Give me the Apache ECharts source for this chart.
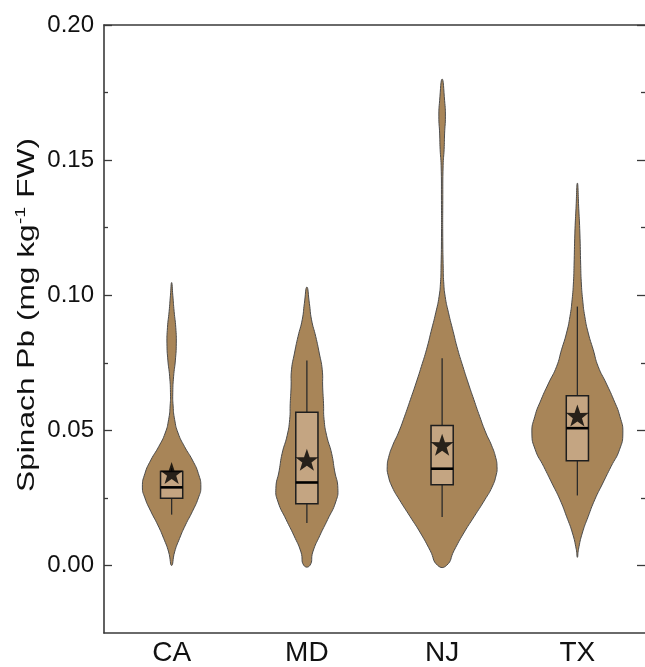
<!DOCTYPE html>
<html>
<head>
<meta charset="utf-8">
<script src="https://cdn.jsdelivr.net/npm/echarts@6/dist/echarts.min.js"></script>
<style>
  html, body { margin: 0; padding: 0; background: #fff; }
  #chart { width: 645px; height: 667px; }
</style>
</head>
<body>
<div id="chart"></div>
<script>
const categories = ['CA', 'MD', 'NJ', 'TX'];

// violin outlines: [Pb value, relative density]
const densityCA = [[0, 0], [0.005, 0.054], [0.01, 0.143], [0.015, 0.25], [0.02, 0.375], [0.025, 0.482],
  [0.029, 0.527], [0.034, 0.482], [0.039, 0.375], [0.044, 0.232], [0.049, 0.116], [0.054, 0.054],
  [0.059, 0.027], [0.064, 0.021], [0.07, 0.036], [0.076, 0.068], [0.082, 0.084], [0.088, 0.075],
  [0.094, 0.045], [0.1, 0.021], [0.1047, 0]];
const densityMD = [[0, 0.054], [0.005, 0.107], [0.011, 0.232], [0.017, 0.375], [0.0235, 0.52], [0.0285, 0.559],
  [0.035, 0.5], [0.0415, 0.446], [0.048, 0.357], [0.054, 0.31], [0.06, 0.3], [0.066, 0.285],
  [0.0724, 0.277], [0.0786, 0.223], [0.0847, 0.16], [0.0909, 0.084], [0.097, 0.045], [0.103, 0]];
const densityNJ = [[0, 0.08], [0.0055, 0.215], [0.012, 0.39], [0.018, 0.575], [0.0243, 0.77], [0.029, 0.9],
  [0.0335, 0.975], [0.0365, 0.99], [0.04, 0.965], [0.0445, 0.89], [0.049, 0.79], [0.055, 0.68],
  [0.0615, 0.57], [0.0675, 0.47], [0.0736, 0.375], [0.08, 0.28], [0.0865, 0.2],
  [0.0935, 0.115], [0.0995, 0.055], [0.105, 0.028], [0.11, 0.02], [0.12, 0.012], [0.135, 0.012],
  [0.148, 0.018], [0.154, 0.036], [0.16, 0.045], [0.166, 0.059], [0.172, 0.045], [0.18, 0]];
const densityTX = [[0.003, 0], [0.006, 0.02], [0.012, 0.089], [0.018, 0.193], [0.0243, 0.313], [0.0305, 0.46],
  [0.0366, 0.607], [0.0428, 0.759], [0.049, 0.82], [0.0551, 0.768], [0.0613, 0.655], [0.0675, 0.518],
  [0.0736, 0.375], [0.0798, 0.286], [0.086, 0.196], [0.0921, 0.134], [0.0983, 0.095], [0.105, 0.07],
  [0.111, 0.06], [0.123, 0.045], [0.132, 0.025], [0.1415, 0]];

// box plot statistics per state
const lowerWhisker = [0.0188, 0.0157, 0.0179, 0.0259];
const q1 = [0.0249, 0.0228, 0.0299, 0.0387];
const median = [0.0289, 0.0307, 0.0358, 0.0508];
const q3 = [0.0348, 0.0567, 0.0518, 0.0628];
const upperWhisker = [0.036, 0.0758, 0.0767, 0.0958];
const means = [0.0342, 0.0391, 0.0447, 0.0555];

const majorTicks = [0, 0.05, 0.1, 0.15, 0.2];
const minorTicks = [0.025, 0.075, 0.125, 0.175];

const densities = [densityCA, densityMD, densityNJ, densityTX];

const FONT = 'Liberation Sans, Arial, sans-serif';
const AXIS_COLOR = '#3a3a3a';
const STAR = 'path://M50,0 L61.8,35.1 L97.6,34.5 L69,56.7 L79.4,90.5 L50,70 L20.6,90.5 L31,56.7 L2.4,34.5 L38.2,35.1 Z';

function dedupe(pts) {
  const out = [];
  pts.forEach(p => {
    const last = out[out.length - 1];
    if (!last || Math.abs(last[0] - p[0]) > 0.01 || Math.abs(last[1] - p[1]) > 0.01) out.push(p);
  });
  if (out.length > 1) {
    const a = out[0], b = out[out.length - 1];
    if (Math.abs(a[0] - b[0]) < 0.01 && Math.abs(a[1] - b[1]) < 0.01) out.pop();
  }
  return out;
}

function renderViolin(params, api) {
  const idx = api.value(0);
  const band = api.size([1, 0])[0];
  const k = band * 0.41;
  const left = [], right = [];
  densities[idx].forEach(([v, d]) => {
    const p = api.coord([idx, v]);
    left.push([p[0] - d * k, p[1]]);
    right.push([p[0] + d * k, p[1]]);
  });
  return {
    type: 'polygon',
    shape: {points: dedupe(left.concat(right.reverse())), smooth: 0.55},
    style: {fill: '#A88558', stroke: '#4b4b4b', lineWidth: 1}
  };
}

function renderBox(params, api) {
  const idx = api.value(0);
  const half = api.size([1, 0])[0] * 0.082;
  const lo = api.coord([idx, api.value(1)]);
  const b1 = api.coord([idx, api.value(2)]);
  const md = api.coord([idx, api.value(3)]);
  const b3 = api.coord([idx, api.value(4)]);
  const hi = api.coord([idx, api.value(5)]);
  const x = lo[0];
  return {
    type: 'group',
    children: [
      {type: 'line', shape: {x1: x, y1: lo[1], x2: x, y2: b1[1]}, style: {stroke: '#2b2b2b', lineWidth: 1.3}},
      {type: 'line', shape: {x1: x, y1: b3[1], x2: x, y2: hi[1]}, style: {stroke: '#2b2b2b', lineWidth: 1.3}},
      {type: 'rect', shape: {x: x - half, y: b3[1], width: half * 2, height: b1[1] - b3[1]},
        style: {fill: '#C4A582', stroke: '#1e1e1e', lineWidth: 1.5}},
      {type: 'line', shape: {x1: x - half, y1: md[1], x2: x + half, y2: md[1]}, style: {stroke: '#000', lineWidth: 2.6}}
    ]
  };
}

const chart = echarts.init(document.getElementById('chart'));

function yAxisDef(position, ticks, len, withLabels, withLine) {
  return {
    type: 'value',
    position: position,
    min: -0.025,
    max: 0.2,
    axisLine: {show: withLine, lineStyle: {color: AXIS_COLOR, width: 1.6}},
    axisTick: {show: true, inside: true, length: len, customValues: ticks, lineStyle: {color: AXIS_COLOR, width: 1.3}},
    axisLabel: withLabels ? {
      show: true, customValues: majorTicks, margin: 10, fontSize: 24, color: '#111', fontFamily: FONT,
      formatter: v => v.toFixed(2)
    } : {show: false},
    splitLine: {show: false}
  };
}

chart.setOption({
  animation: false,
  backgroundColor: '#fff',
  grid: {left: 104, top: 25, width: 543, height: 608, containLabel: false},
  xAxis: [
    {
      type: 'category',
      data: categories,
      position: 'bottom',
      axisLine: {onZero: false, lineStyle: {color: AXIS_COLOR, width: 1.6}},
      axisTick: {show: false},
      axisLabel: {fontSize: 28, color: '#111', fontFamily: FONT, margin: 6},
      splitLine: {show: false}
    },
    {
      type: 'category',
      data: categories,
      position: 'top',
      axisLine: {onZero: false, lineStyle: {color: AXIS_COLOR, width: 1.6}},
      axisTick: {show: false},
      axisLabel: {show: false}
    }
  ],
  yAxis: [
    yAxisDef('left', majorTicks, 8, true, true),
    yAxisDef('left', minorTicks, 4, false, false),
    yAxisDef('right', majorTicks, 8, false, false),
    yAxisDef('right', minorTicks, 4, false, false)
  ],
  graphic: [{
    type: 'text',
    x: 27,
    y: 315,
    rotation: Math.PI / 2,
    scaleX: 1.32,
    style: {
      text: '{a|Spinach Pb (mg kg}{s|-1}{a| FW)}',
      align: 'center',
      verticalAlign: 'middle',
      fill: '#111',
      rich: {
        a: {fontSize: 24, fontFamily: FONT, fill: '#111', lineHeight: 28},
        s: {fontSize: 15, fontFamily: FONT, fill: '#111', verticalAlign: 'top', lineHeight: 15}
      }
    }
  }],
  series: [
    {
      type: 'custom',
      name: 'violin',
      xAxisIndex: 0,
      yAxisIndex: 0,
      renderItem: renderViolin,
      data: categories.map((c, i) => [i]),
      encode: {x: 0},
      z: 1
    },
    {
      type: 'custom',
      name: 'box',
      xAxisIndex: 0,
      yAxisIndex: 0,
      renderItem: renderBox,
      data: categories.map((c, i) => [i, lowerWhisker[i], q1[i], median[i], q3[i], upperWhisker[i]]),
      encode: {x: 0, y: [1, 2, 3, 4, 5]},
      z: 2
    },
    {
      type: 'scatter',
      name: 'mean',
      xAxisIndex: 0,
      yAxisIndex: 0,
      symbol: STAR,
      symbolSize: [23, 22],
      itemStyle: {color: '#000'},
      data: means.map((m, i) => [i, m]),
      z: 3
    }
  ]
});
</script>
</body>
</html>
